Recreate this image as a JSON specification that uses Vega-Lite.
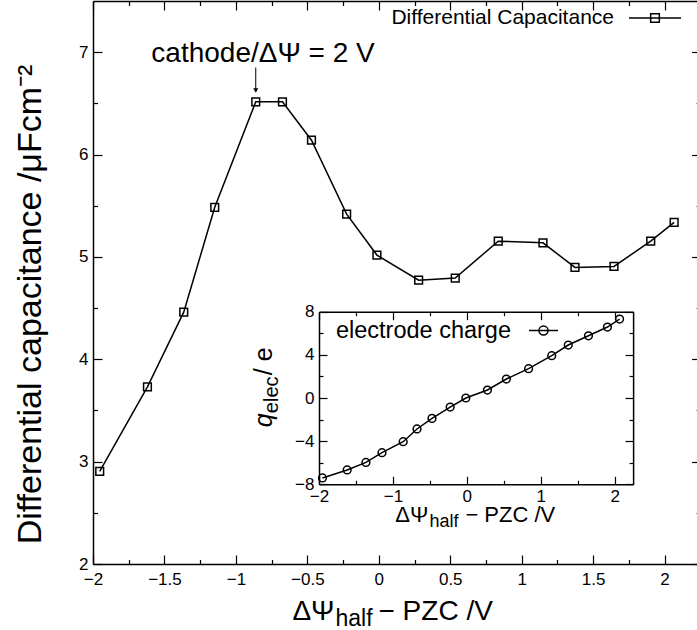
{
  "$schema": "https://vega.github.io/schema/vega-lite/v6.json",
  "width": 604,
  "height": 563,
  "autosize": {"type": "none"},
  "padding": {"left": 93, "top": 1, "right": 0, "bottom": 66},
  "background": "white",
  "config": {
    "font": "Liberation Sans",
    "view": {"stroke": null},
    "axis": {
      "grid": false, "domainColor": "black", "domainWidth": 1.5, "tickColor": "black", "tickWidth": 1.2,
      "labelColor": "black", "labelFont": "Liberation Sans", "labelOverlap": false, "labelFlush": false, "labelBound": false,
      "titleColor": "black", "titleFont": "Liberation Sans", "titleFontWeight": "normal"
    },
    "legend": {"labelFont": "Liberation Sans", "labelColor": "black", "padding": 0, "labelLimit": 0}
  },
  "data": {"values": [
    {"x": -1.953, "C": 2.905, "q": -7.41},
    {"x": -1.619, "C": 3.73, "q": -6.67},
    {"x": -1.365, "C": 4.46, "q": -5.97},
    {"x": -1.148, "C": 5.485, "q": -5.07},
    {"x": -0.861, "C": 6.515, "q": -4.05},
    {"x": -0.674, "C": 6.515, "q": -2.87},
    {"x": -0.471, "C": 6.14, "q": -1.89},
    {"x": -0.225, "C": 5.418, "q": -0.84},
    {"x": -0.013, "C": 5.018, "q": 0.0},
    {"x": 0.279, "C": 4.773, "q": 0.74},
    {"x": 0.535, "C": 4.793, "q": 1.76},
    {"x": 0.836, "C": 5.154, "q": 2.72},
    {"x": 1.149, "C": 5.138, "q": 3.92},
    {"x": 1.373, "C": 4.897, "q": 4.91},
    {"x": 1.646, "C": 4.907, "q": 5.77},
    {"x": 1.903, "C": 5.154, "q": 6.58},
    {"x": 2.067, "C": 5.337, "q": 7.32}
  ]},
  "layer": [
    {
      "layer": [
        {
          "mark": {"type": "line", "color": "black", "strokeWidth": 1.5},
          "encoding": {
            "x": {"field": "x", "type": "quantitative",
              "scale": {"domain": [-2, 2.25], "range": [0, 607.3], "nice": false, "zero": false},
              "axis": {"orient": "bottom", "title": null,
                "values": [-2, -1.75, -1.5, -1.25, -1, -0.75, -0.5, -0.25, 0, 0.25, 0.5, 0.75, 1, 1.25, 1.5, 1.75, 2],
                "format": "~g",
                "labelExpr": "datum.value * 2 == round(datum.value * 2) ? datum.label : ''",
                "tickSize": {"condition": {"test": "datum.value * 2 == round(datum.value * 2)", "value": -9}, "value": -4.5},
                "labelFontSize": 17, "labelPadding": 16}},
            "y": {"field": "C", "type": "quantitative",
              "scale": {"domain": [2, 7.5], "nice": false, "zero": false},
              "axis": {"orient": "left",
                "title": "Differential capacitance /μFcm⁻²", "titleFontSize": 34, "titlePadding": 31, "titleY": 303,
                "values": [2, 2.5, 3, 3.5, 4, 4.5, 5, 5.5, 6, 6.5, 7],
                "format": "~g",
                "labelExpr": "datum.value == round(datum.value) ? datum.label : ''",
                "tickSize": {"condition": {"test": "datum.value == round(datum.value)", "value": -9}, "value": -4.5},
                "labelFontSize": 17, "labelPadding": 14}}
          }
        },
        {
          "mark": {"type": "point", "shape": "square", "filled": false, "size": 60, "strokeWidth": 1.5, "opacity": 1},
          "encoding": {
            "x": {"field": "x", "type": "quantitative", "scale": {"domain": [-2, 2.25], "range": [0, 607.3], "nice": false, "zero": false}, "axis": null},
            "y": {"field": "C", "type": "quantitative", "scale": {"domain": [2, 7.5], "nice": false, "zero": false}, "axis": null},
            "color": {"datum": "Differential Capacitance", "scale": {"range": ["black"]},
              "legend": {"title": null, "orient": "none", "legendX": 535, "legendY": -10,
                "symbolType": "M-1,0H1M-0.167,-0.167H0.167V0.167H-0.167Z", "symbolSize": 2704,
                "symbolStrokeWidth": 1.5, "symbolStrokeColor": "black",
                "labelAlign": "right", "labelOffset": -68, "labelFontSize": 21, "labelLimit": 0}}
          }
        },
        {
          "mark": {"type": "line", "strokeOpacity": 0},
          "encoding": {
            "x": {"field": "x", "type": "quantitative",
              "scale": {"domain": [-2, 2.25], "range": [0, 607.3], "nice": false, "zero": false},
              "axis": {"orient": "top", "title": null, "labels": false,
                "values": [-2, -1.75, -1.5, -1.25, -1, -0.75, -0.5, -0.25, 0, 0.25, 0.5, 0.75, 1, 1.25, 1.5, 1.75, 2],
                "tickSize": {"condition": {"test": "datum.value * 2 == round(datum.value * 2)", "value": -9}, "value": -4.5}}},
            "y": {"field": "C", "type": "quantitative",
              "scale": {"domain": [2, 7.5], "nice": false, "zero": false},
              "axis": {"orient": "right", "title": null, "labels": false, "offset": 3.6,
                "values": [2, 2.5, 3, 3.5, 4, 4.5, 5, 5.5, 6, 6.5, 7],
                "tickSize": {"condition": {"test": "datum.value == round(datum.value)", "value": -9}, "value": -4.5}}}
          }
        },
        {
          "data": {"values": [{}]},
          "mark": {"type": "text", "text": "cathode/ΔΨ = 2 V", "fontSize": 28, "align": "center", "baseline": "alphabetic", "color": "black"},
          "encoding": {
            "x": {"datum": -0.81, "type": "quantitative", "scale": {"domain": [-2, 2.25], "range": [0, 607.3], "nice": false, "zero": false}, "axis": null},
            "y": {"datum": 6.9, "type": "quantitative", "scale": {"domain": [2, 7.5], "nice": false, "zero": false}, "axis": null}
          }
        },
        {
          "data": {"values": [{}]},
          "mark": {"type": "rule", "color": "black", "strokeWidth": 1},
          "encoding": {
            "x": {"datum": -0.861, "type": "quantitative", "scale": {"domain": [-2, 2.25], "range": [0, 607.3], "nice": false, "zero": false}, "axis": null},
            "y": {"datum": 6.85, "type": "quantitative", "scale": {"domain": [2, 7.5], "nice": false, "zero": false}, "axis": null},
            "y2": {"datum": 6.63}
          }
        },
        {
          "data": {"values": [{}]},
          "mark": {"type": "point", "shape": "triangle-down", "filled": true, "color": "black", "size": 26, "opacity": 1},
          "encoding": {
            "x": {"datum": -0.861, "type": "quantitative", "scale": {"domain": [-2, 2.25], "range": [0, 607.3], "nice": false, "zero": false}, "axis": null},
            "y": {"datum": 6.625, "type": "quantitative", "scale": {"domain": [2, 7.5], "nice": false, "zero": false}, "axis": null}
          }
        },
        {
          "data": {"values": [{}]},
          "mark": {"type": "text", "text": "ΔΨ", "fontSize": 28, "align": "right", "baseline": "alphabetic", "dy": 56, "color": "black"},
          "encoding": {
            "x": {"datum": -0.31, "type": "quantitative", "scale": {"domain": [-2, 2.25], "range": [0, 607.3], "nice": false, "zero": false}, "axis": null},
            "y": {"datum": 2, "type": "quantitative", "scale": {"domain": [2, 7.5], "nice": false, "zero": false}, "axis": null}
          }
        },
        {
          "data": {"values": [{}]},
          "mark": {"type": "text", "text": "half", "fontSize": 23, "align": "left", "baseline": "alphabetic", "dx": 1, "dy": 62, "color": "black"},
          "encoding": {
            "x": {"datum": -0.31, "type": "quantitative", "scale": {"domain": [-2, 2.25], "range": [0, 607.3], "nice": false, "zero": false}, "axis": null},
            "y": {"datum": 2, "type": "quantitative", "scale": {"domain": [2, 7.5], "nice": false, "zero": false}, "axis": null}
          }
        },
        {
          "data": {"values": [{}]},
          "mark": {"type": "text", "text": "− PZC /V", "fontSize": 28, "align": "left", "baseline": "alphabetic", "dx": 44, "dy": 56, "color": "black"},
          "encoding": {
            "x": {"datum": -0.31, "type": "quantitative", "scale": {"domain": [-2, 2.25], "range": [0, 607.3], "nice": false, "zero": false}, "axis": null},
            "y": {"datum": 2, "type": "quantitative", "scale": {"domain": [2, 7.5], "nice": false, "zero": false}, "axis": null}
          }
        }
      ],
      "resolve": {"axis": {"x": "independent", "y": "independent"}}
    },
    {
      "layer": [
        {
          "mark": {"type": "line", "color": "black", "strokeWidth": 1.5},
          "encoding": {
            "x": {"field": "x", "type": "quantitative",
              "scale": {"domain": [-2, 2.25], "range": [226, 540.1], "nice": false, "zero": false},
              "axis": {"orient": "bottom", "title": null, "offset": -79.7,
                "values": [-2, -1.5, -1, -0.5, 0, 0.5, 1, 1.5, 2],
                "format": "~g",
                "labelExpr": "datum.value == round(datum.value) ? datum.label : ''",
                "tickSize": {"condition": {"test": "datum.value == round(datum.value)", "value": -8}, "value": -4},
                "labelFontSize": 17, "labelPadding": 12}},
            "y": {"field": "q", "type": "quantitative",
              "scale": {"domain": [-8, 8], "range": [483.3, 310.7], "nice": false, "zero": false},
              "axis": {"orient": "left", "title": null, "offset": -226,
                "values": [-8, -6, -4, -2, 0, 2, 4, 6, 8],
                "format": "~g",
                "labelExpr": "datum.value % 4 == 0 ? datum.label : ''",
                "tickSize": {"condition": {"test": "datum.value % 4 == 0", "value": -8}, "value": -4},
                "labelFontSize": 17, "labelPadding": 13}}
          }
        },
        {
          "mark": {"type": "point", "shape": "circle", "filled": false, "size": 60, "strokeWidth": 1.5, "opacity": 1},
          "encoding": {
            "x": {"field": "x", "type": "quantitative", "scale": {"domain": [-2, 2.25], "range": [226, 540.1], "nice": false, "zero": false}, "axis": null},
            "y": {"field": "q", "type": "quantitative", "scale": {"domain": [-8, 8], "range": [483.3, 310.7], "nice": false, "zero": false}, "axis": null},
            "color": {"datum": "electrode charge", "scale": {"range": ["black"]},
              "legend": {"title": null, "orient": "none", "legendX": 435, "legendY": 314,
                "symbolType": "M-1,0H1M-0.31,0A0.31,0.31,0,1,1,0.31,0A0.31,0.31,0,1,1,-0.31,0Z", "symbolSize": 841,
                "symbolStrokeWidth": 1.5, "symbolStrokeColor": "black",
                "labelAlign": "right", "labelOffset": -48, "labelFontSize": 23.5, "labelLimit": 0}}
          }
        },
        {
          "mark": {"type": "line", "strokeOpacity": 0},
          "encoding": {
            "x": {"field": "x", "type": "quantitative",
              "scale": {"domain": [-2, 2.25], "range": [226, 540.1], "nice": false, "zero": false},
              "axis": {"orient": "top", "title": null, "labels": false, "offset": -310.7,
                "values": [-2, -1.5, -1, -0.5, 0, 0.5, 1, 1.5, 2],
                "tickSize": {"condition": {"test": "datum.value == round(datum.value)", "value": -8}, "value": -4}}},
            "y": {"field": "q", "type": "quantitative",
              "scale": {"domain": [-8, 8], "range": [483.3, 310.7], "nice": false, "zero": false},
              "axis": {"orient": "right", "title": null, "labels": false, "offset": -63.9,
                "values": [-8, -6, -4, -2, 0, 2, 4, 6, 8],
                "tickSize": {"condition": {"test": "datum.value % 4 == 0", "value": -8}, "value": -4}}}
          }
        },
        {
          "data": {"values": [{}]},
          "mark": {"type": "text", "text": "ΔΨ", "fontSize": 22, "align": "right", "baseline": "alphabetic", "dy": 38, "color": "black"},
          "encoding": {
            "x": {"datum": -0.52, "type": "quantitative", "scale": {"domain": [-2, 2.25], "range": [226, 540.1], "nice": false, "zero": false}, "axis": null},
            "y": {"datum": -8, "type": "quantitative", "scale": {"domain": [-8, 8], "range": [483.3, 310.7], "nice": false, "zero": false}, "axis": null}
          }
        },
        {
          "data": {"values": [{}]},
          "mark": {"type": "text", "text": "half", "fontSize": 18, "align": "left", "baseline": "alphabetic", "dx": 1, "dy": 43, "color": "black"},
          "encoding": {
            "x": {"datum": -0.52, "type": "quantitative", "scale": {"domain": [-2, 2.25], "range": [226, 540.1], "nice": false, "zero": false}, "axis": null},
            "y": {"datum": -8, "type": "quantitative", "scale": {"domain": [-8, 8], "range": [483.3, 310.7], "nice": false, "zero": false}, "axis": null}
          }
        },
        {
          "data": {"values": [{}]},
          "mark": {"type": "text", "text": "− PZC /V", "fontSize": 22, "align": "left", "baseline": "alphabetic", "dx": 37, "dy": 38, "color": "black"},
          "encoding": {
            "x": {"datum": -0.52, "type": "quantitative", "scale": {"domain": [-2, 2.25], "range": [226, 540.1], "nice": false, "zero": false}, "axis": null},
            "y": {"datum": -8, "type": "quantitative", "scale": {"domain": [-8, 8], "range": [483.3, 310.7], "nice": false, "zero": false}, "axis": null}
          }
        },
        {
          "data": {"values": [{}]},
          "mark": {"type": "text", "text": "q", "fontSize": 25, "fontStyle": "italic", "angle": 270, "align": "left", "baseline": "alphabetic", "dy": -47, "color": "black"},
          "encoding": {
            "x": {"datum": -2, "type": "quantitative", "scale": {"domain": [-2, 2.25], "range": [226, 540.1], "nice": false, "zero": false}, "axis": null},
            "y": {"datum": -2.7, "type": "quantitative", "scale": {"domain": [-8, 8], "range": [483.3, 310.7], "nice": false, "zero": false}, "axis": null}
          }
        },
        {
          "data": {"values": [{}]},
          "mark": {"type": "text", "text": "elec", "fontSize": 20, "angle": 270, "align": "left", "baseline": "alphabetic", "dx": 14, "dy": -41, "color": "black"},
          "encoding": {
            "x": {"datum": -2, "type": "quantitative", "scale": {"domain": [-2, 2.25], "range": [226, 540.1], "nice": false, "zero": false}, "axis": null},
            "y": {"datum": -2.7, "type": "quantitative", "scale": {"domain": [-8, 8], "range": [483.3, 310.7], "nice": false, "zero": false}, "axis": null}
          }
        },
        {
          "data": {"values": [{}]},
          "mark": {"type": "text", "text": " / e", "fontSize": 25, "angle": 270, "align": "left", "baseline": "alphabetic", "dx": 52, "dy": -47, "color": "black"},
          "encoding": {
            "x": {"datum": -2, "type": "quantitative", "scale": {"domain": [-2, 2.25], "range": [226, 540.1], "nice": false, "zero": false}, "axis": null},
            "y": {"datum": -2.7, "type": "quantitative", "scale": {"domain": [-8, 8], "range": [483.3, 310.7], "nice": false, "zero": false}, "axis": null}
          }
        }
      ],
      "resolve": {"axis": {"x": "independent", "y": "independent"}}
    }
  ],
  "resolve": {"scale": {"x": "independent", "y": "independent", "color": "independent"}}
}
